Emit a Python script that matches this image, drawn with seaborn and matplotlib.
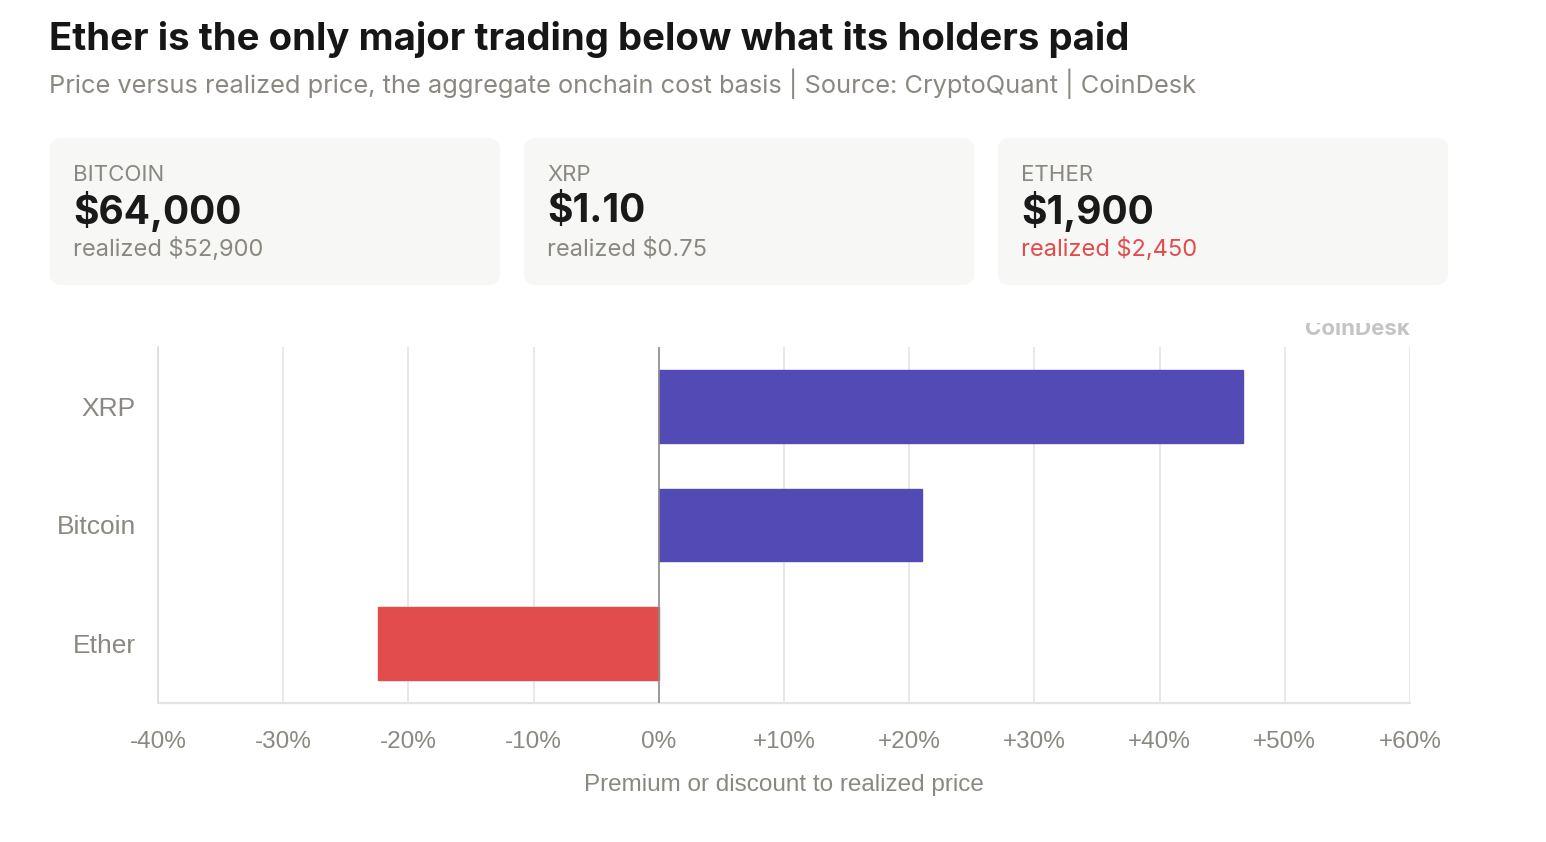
import matplotlib
matplotlib.use("Agg")
import matplotlib.pyplot as plt
import seaborn as sns
import pandas as pd
from matplotlib.patches import FancyBboxPatch
from matplotlib.transforms import Bbox, TransformedBbox

# ---- data ----
categories = ["XRP", "Bitcoin", "Ether"]
premium = [46.7, 21.0, -22.4]
bar_colors = ["#524bb5", "#524bb5", "#e24c4c"]
xticks = [-40, -30, -20, -10, 0, 10, 20, 30, 40, 50, 60]
xtick_labels = ["-40%", "-30%", "-20%", "-10%", "0%", "+10%", "+20%", "+30%", "+40%", "+50%", "+60%"]
card_names = ["BITCOIN", "XRP", "ETHER"]
card_prices = ["$64,000", "$1.10", "$1,900"]
card_realized = ["realized $52,900", "realized $0.75", "realized $2,450"]
card_realized_colors = ["#8a8880", "#8a8880", "#e24c4c"]

title = "Ether is the only major trading below what its holders paid"
subtitle = "Price versus realized price, the aggregate onchain cost basis | Source: CryptoQuant | CoinDesk"
xlabel = "Premium or discount to realized price"

sns.set_theme(style="white")
plt.rcParams['font.family'] = ['Inter', 'DejaVu Sans']

W, H = 1546, 842
fig = plt.figure(figsize=(W / 100, H / 100), dpi=100)
fig.patch.set_facecolor("white")

def fx(px):
    return px / W

def fy(py):
    return 1 - py / H

gray = "#8a8880"
axis_font = ['Liberation Sans', 'DejaVu Sans']

# title & subtitle
fig.text(fx(49), fy(39), title, fontsize=27.6, fontweight="bold", color="#161616", va="center", ha="left")
fig.text(fx(49), fy(84), subtitle, fontsize=18.3, color=gray, va="center", ha="left")

# cards
card_x = [50, 524, 998]
card_w = 450
for i in range(3):
    x0 = card_x[i]
    box = FancyBboxPatch((fx(x0 + 12), fy(285 - 12)), fx(card_w - 24), fy(138 + 12) - fy(285 - 12),
                         boxstyle="round,pad=0.0078,rounding_size=0.0078", transform=fig.transFigure,
                         facecolor="#f7f7f5", edgecolor="none", mutation_aspect=W / H)
    fig.patches.append(box)
    fig.text(fx(x0 + 23), fy(175), card_names[i], fontsize=16, color=gray, va="center", ha="left")
    fig.text(fx(x0 + 23), fy(212), card_prices[i], fontsize=28, fontweight="bold", color="#1a1a1a", va="center", ha="left")
    fig.text(fx(x0 + 23), fy(249), card_realized[i], fontsize=17, color=card_realized_colors[i], va="center", ha="left")

# axes
ax = fig.add_axes([fx(158), fy(703), fx(1410) - fx(158), fy(347) - fy(703)])
df = pd.DataFrame({"coin": categories, "premium": premium})
sns.barplot(data=df, x="premium", y="coin", hue="coin", palette=bar_colors, orient="h",
            width=0.615, legend=False, ax=ax, saturation=1, linewidth=1.0, zorder=3)
for patch, c in zip(ax.patches, bar_colors):
    patch.set_edgecolor(c)
    patch.set_alpha(1)

ax.set_xlim(-40, 60)
ax.set_ylim(2.5, -0.5)
ax.set_xticks(xticks)
ax.set_xticklabels(xtick_labels, family=axis_font)
ax.set_yticks(range(len(categories)))
ax.set_yticklabels(categories, family=axis_font)
ax.grid(axis="x", color="#e6e6e6", linewidth=1.3, zorder=0)
ax.grid(axis="y", visible=False)
ax.axvline(0, color="#8c8c8c", linewidth=1.2, zorder=4)
for s in ["top", "right"]:
    ax.spines[s].set_visible(False)
ax.spines["left"].set_color("#dddddd")
ax.spines["left"].set_linewidth(1.3)
ax.spines["bottom"].set_color("#e3e3e3")
ax.spines["bottom"].set_linewidth(1.6)
ax.tick_params(axis="x", colors="#dddddd", length=8, width=1.3, labelcolor=gray, labelsize=17.5, pad=12)
ax.tick_params(axis="y", length=0, labelcolor=gray, labelsize=19, pad=16)
ax.set_ylabel("")
ax.set_xlabel(xlabel, fontsize=17.5, color=gray, labelpad=15, family=axis_font)
ax.set_facecolor("white")

# clipped watermark
wm = fig.text(fx(1410), fy(329), "CoinDesk", fontsize=16, fontweight="bold", color="#c4c4c4",
              ha="right", va="center")
wm.set_clip_box(TransformedBbox(Bbox([[0, 0], [1, fy(323)]]), fig.transFigure))
wm.set_clip_on(True)

fig.savefig("out.png", dpi=100, facecolor="white")
